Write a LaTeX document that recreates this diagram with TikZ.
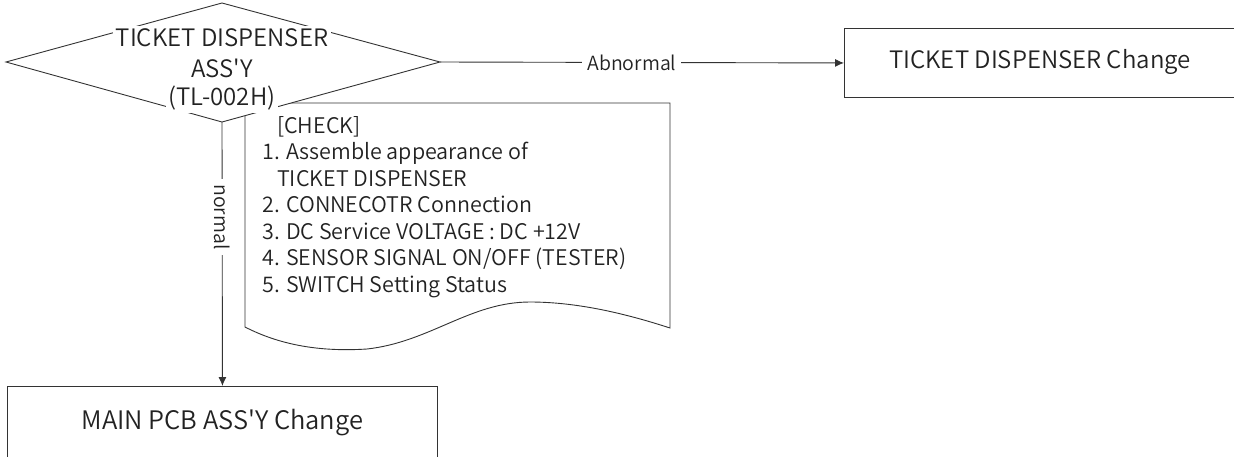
\documentclass[tikz,border=0pt]{standalone}
\usepackage{fontspec}
\setmainfont{Noto Sans CJK KR}[UprightFont=* DemiLight]
\usetikzlibrary{arrows.meta}
\definecolor{ink}{HTML}{222222}
\definecolor{wire}{HTML}{333333}
\tikzset{
  shapeline/.style={draw=wire, line width=0.9pt},
  conn/.style={draw=wire, line width=0.9pt, -{Latex[length=9pt,width=8pt]}},
  lbl/.style={fill=white, inner xsep=5pt, inner ysep=3pt, text=ink, font=\fontsize{19.5}{22}\selectfont},
  boxtext/.style={text=ink, font=\fontsize{24}{28}\selectfont},
  dtext/.style={fill=white, inner sep=2.5pt, text=ink, font=\fontsize{24}{28}\selectfont},
}
\begin{document}
\begin{tikzpicture}[x=1pt,y=-1pt]
\useasboundingbox (0,0) rectangle (1234,456);
\clip (0,0) rectangle (1234,456);
% document shape
\path[shapeline, fill=white] (245,103) -- (670,103) -- (670,328)
  .. controls (630,315) and (580,302) .. (530,302)
  .. controls (470,302) and (430,342) .. (367,349)
  .. controls (320,352) and (280,345) .. (245,327) -- cycle;
\node[anchor=north west, align=left, text=ink, font=\fontsize{21.5}{26.5}\selectfont, inner sep=0pt] (check) at (262,116)
 {\hspace*{15pt}[CHECK]\\
  1. Assemble appearance of\\
  \hspace*{15pt}TICKET DISPENSER\\
  2. CONNECOTR Connection\\
  3. DC Service VOLTAGE : DC +12V\\
  4. SENSOR SIGNAL ON/OFF (TESTER)\\
  5. SWITCH Setting Status};
% diamond
\coordinate (dl) at (6,62);
\coordinate (dt) at (222,3);
\coordinate (dr) at (440,62);
\coordinate (db) at (222,122);
\path[shapeline, fill=white] (dl) -- (dt) -- (dr) -- (db) -- cycle;
\node[dtext] (d1) at (222,38) {TICKET DISPENSER};
\node[dtext] (d2) at (222,68) {ASS\textquotesingle Y};
\node[dtext] (d3) at (222,98) {(TL-002H)};
% boxes
\node[draw=wire, line width=0.9pt, minimum width=450pt, minimum height=69pt, anchor=north west, inner sep=0pt] (tdc) at (844,28) {};
\node[boxtext] (tdct) at (1040,62) {TICKET DISPENSER Change};
\node[draw=wire, line width=0.9pt, minimum width=430pt, minimum height=72pt, anchor=north west, inner sep=0pt, boxtext, font=\fontsize{25.5}{28}\selectfont] (mpcb) at (7,386) {MAIN PCB ASS\textquotesingle Y Change};
% connectors
\draw[conn] (dr) -- node[lbl, pos=0.475] {Abnormal} (tdc.west);
\draw[conn] (db) -- node[lbl, rotate=-90, pos=0.36] {normal} (mpcb.north);
\end{tikzpicture}
\end{document}
